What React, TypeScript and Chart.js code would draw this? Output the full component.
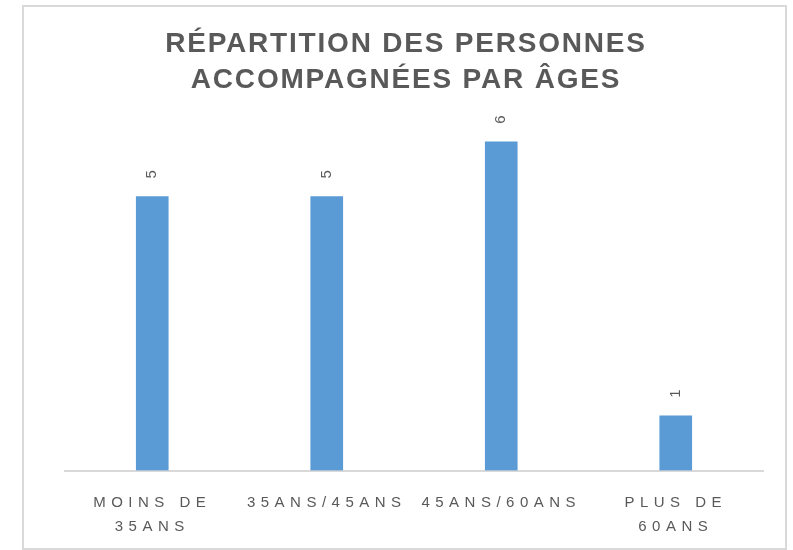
import React, { useEffect, useRef } from "react";
import { Chart, registerables } from "chart.js";

Chart.register(...registerables);

const titleLines = ["RÉPARTITION DES PERSONNES", "ACCOMPAGNÉES PAR ÂGES"];
const categories: (string | string[])[] = [["MOINS DE", "35ANS"], "35ANS/45ANS", "45ANS/60ANS", ["PLUS DE", "60ANS"]];
const values = [5, 5, 6, 1];
const yMin = 0;
const yMax = 7;

export default function App() {
  const ref = useRef<HTMLCanvasElement>(null);

  useEffect(() => {
    if (!ref.current) return;
    const decor = {
      id: "decor",
      beforeDraw(chart: any) {
        const ctx = chart.ctx as CanvasRenderingContext2D;
        ctx.save();
        ctx.fillStyle = "#ffffff";
        ctx.fillRect(0, 0, chart.width, chart.height);
        ctx.strokeStyle = "#d9d9d9";
        ctx.lineWidth = 2;
        ctx.strokeRect(23, 6, 763, 543);
        ctx.restore();
        (ctx as any).letterSpacing = "5.5px";
      },
      afterDraw(chart: any) {
        const ctx = chart.ctx as CanvasRenderingContext2D;
        ctx.save();
        (ctx as any).letterSpacing = "1.8px";
        ctx.fillStyle = "#595959";
        ctx.font = "bold 28px 'Liberation Sans', Arial, sans-serif";
        ctx.textAlign = "center";
        ctx.textBaseline = "middle";
        titleLines.forEach((t, i) => ctx.fillText(t, 406, 44 + i * 36));
        (ctx as any).letterSpacing = "0px";
        ctx.font = "15px 'Liberation Sans', Arial, sans-serif";
        const meta = chart.getDatasetMeta(0);
        meta.data.forEach((bar: any, i: number) => {
          ctx.save();
          ctx.translate(bar.x, bar.y - 18);
          ctx.rotate(-Math.PI / 2);
          ctx.textAlign = "left";
          ctx.textBaseline = "middle";
          ctx.fillText(String(values[i]), 0, 0);
          ctx.restore();
        });
        ctx.restore();
      },
    };

    const chart = new Chart(ref.current, {
      type: "bar",
      data: {
        labels: categories,
        datasets: [
          {
            data: values,
            backgroundColor: "#5B9BD5",
            borderWidth: 0,
            barThickness: 32,
          },
        ],
      },
      options: {
        animation: false,
        responsive: true,
        maintainAspectRatio: false,
        layout: { padding: { left: 65, right: 30, top: 87, bottom: -9 } },
        plugins: {
          legend: { display: false },
          tooltip: { enabled: false },
          title: { display: false },
        },
        scales: {
          x: {
            grid: { display: false, drawTicks: false },
            border: { display: true, color: "#d9d9d9", width: 2 },
            ticks: {
              color: "#595959",
              font: { size: 15, family: "'Liberation Sans', Arial, sans-serif", lineHeight: 1.55 },
              padding: 21,
              autoSkip: false,
              maxRotation: 0,
              minRotation: 0,
            },
          },
          y: {
            display: false,
            min: yMin,
            max: yMax,
          },
        },
      },
      plugins: [decor],
    });
    return () => chart.destroy();
  }, []);

  return (
    <div style={{ position: "absolute", left: 0, top: 0, width: 793, height: 550, background: "#fff" }}>
      <canvas ref={ref} />
    </div>
  );
}
